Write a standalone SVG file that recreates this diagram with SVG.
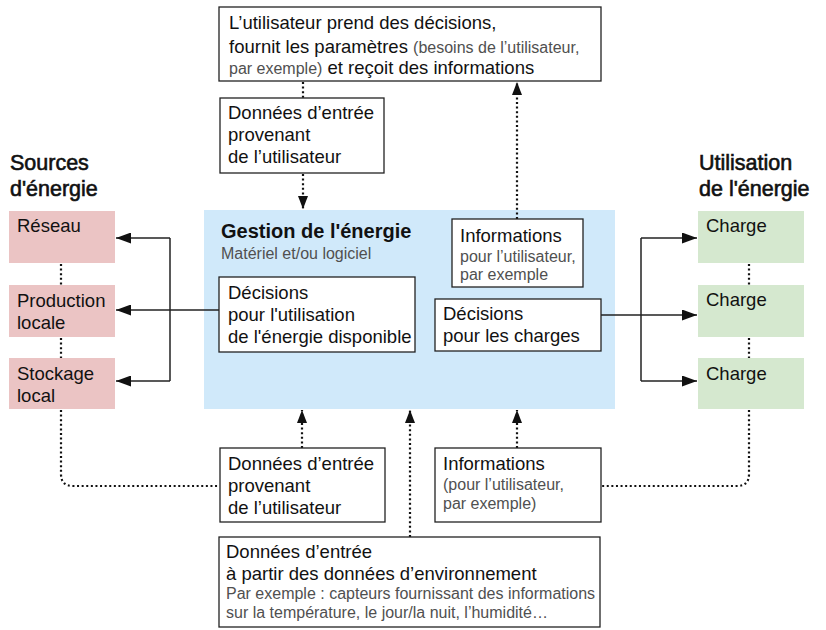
<svg xmlns="http://www.w3.org/2000/svg" width="826" height="630" viewBox="0 0 826 630">
<style>
text{font-family:"Liberation Sans",Arial,sans-serif;fill:#111}
.m{font-size:18.5px}
.s{font-size:16px;fill:#505050}
.h{font-size:21.5px;stroke:#111;stroke-width:0.6}
.b{font-size:20px;font-weight:bold}
.box{fill:#fff;stroke:#222;stroke-width:1.3}
.red{fill:#ebc4c4}
.grn{fill:#d5e8cf}
.blu{fill:#d0e9fa}
.sol{fill:none;stroke:#222;stroke-width:1.5}
.dot{fill:none;stroke:#111;stroke-width:2.2;stroke-dasharray:2 2.6}
</style>
<defs>
<marker id="as" viewBox="0 0 10 10" refX="10" refY="5" markerWidth="15" markerHeight="11" markerUnits="userSpaceOnUse" orient="auto" preserveAspectRatio="none"><path d="M0,0 L10,5 L0,10 z" fill="#111"/></marker>
<marker id="ad" viewBox="0 0 10 10" refX="10" refY="5" markerWidth="13" markerHeight="10" markerUnits="userSpaceOnUse" orient="auto" preserveAspectRatio="none"><path d="M0,0 L10,5 L0,10 z" fill="#111"/></marker>
</defs>

<g id="gestion">
<rect class="blu" x="204" y="210" width="411" height="199"/>
<text class="b" x="221" y="238">Gestion de l'énergie</text>
<text class="s" x="221" y="259">Matériel et/ou logiciel</text>
</g>

<g id="connectors">
<path class="sol" d="M219,310 H116" marker-end="url(#as)"/>
<path class="sol" d="M170,238 V381"/>
<path class="sol" d="M170,238 H116" marker-end="url(#as)"/>
<path class="sol" d="M170,381 H116" marker-end="url(#as)"/>
<path class="sol" d="M601,315 H697" marker-end="url(#as)"/>
<path class="sol" d="M641,238 V381"/>
<path class="sol" d="M641,238 H697" marker-end="url(#as)"/>
<path class="sol" d="M641,381 H697" marker-end="url(#as)"/>
<path class="dot" d="M303,82 V98"/>
<path class="dot" d="M303,174 V209" marker-end="url(#ad)"/>
<path class="dot" d="M517,219 V82" marker-end="url(#ad)"/>
<path class="dot" d="M302,448 V410" marker-end="url(#ad)"/>
<path class="dot" d="M410,537 V410" marker-end="url(#ad)"/>
<path class="dot" d="M517,448 V410" marker-end="url(#ad)"/>
<path class="dot" d="M61,264 V285"/>
<path class="dot" d="M61,338 V358"/>
<path class="dot" d="M61,410 V474 Q61,486 73,486 H219"/>
<path class="dot" d="M749,264 V285"/>
<path class="dot" d="M749,338 V358"/>
<path class="dot" d="M749,410 V474 Q749,486 737,486 H601"/>
</g>

<g id="user">
<rect class="box" x="219" y="7" width="382" height="74"/>
<text class="m" x="229" y="29">L’utilisateur prend des décisions,</text>
<text class="m" x="229" y="53">fournit les paramètres <tspan class="s">(besoins de l’utilisateur,</tspan></text>
<text class="m" x="229" y="74"><tspan class="s">par exemple)</tspan> et reçoit des informations</text>
</g>

<g id="input-user-top">
<rect class="box" x="220" y="98" width="164" height="75"/>
<text class="m" x="228" y="119">Données d’entrée</text>
<text class="m" x="228" y="141">provenant</text>
<text class="m" x="228" y="163">de l’utilisateur</text>
</g>

<g id="decisions-energy">
<rect class="box" x="219" y="277" width="196" height="75"/>
<text class="m" x="228" y="299">Décisions</text>
<text class="m" x="228" y="321">pour l'utilisation</text>
<text class="m" x="228" y="343">de l'énergie disponible</text>
</g>

<g id="info-user">
<rect class="box" x="452" y="219" width="131" height="68"/>
<text class="m" x="460" y="242">Informations</text>
<text class="s" x="460" y="262">pour l’utilisateur,</text>
<text class="s" x="460" y="280">par exemple</text>
</g>

<g id="decisions-charges">
<rect class="box" x="435" y="299" width="166" height="52"/>
<text class="m" x="443" y="320">Décisions</text>
<text class="m" x="443" y="342">pour les charges</text>
</g>

<g id="sources-title">
<text class="h" x="10" y="170">Sources</text>
<text class="h" x="10" y="196">d'énergie</text>
</g>
<g id="reseau">
<rect class="red" x="9" y="211" width="106" height="52"/>
<text class="m" x="17" y="232">Réseau</text>
</g>
<g id="production">
<rect class="red" x="9" y="285" width="106" height="52"/>
<text class="m" x="17" y="307">Production</text>
<text class="m" x="17" y="329">locale</text>
</g>
<g id="stockage">
<rect class="red" x="9" y="358" width="106" height="51"/>
<text class="m" x="17" y="380">Stockage</text>
<text class="m" x="17" y="402">local</text>
</g>

<g id="utilisation-title">
<text class="h" x="699" y="170">Utilisation</text>
<text class="h" x="699" y="196">de l'énergie</text>
</g>
<g id="charge1">
<rect class="grn" x="698" y="211" width="106" height="52"/>
<text class="m" x="706" y="232">Charge</text>
</g>
<g id="charge2">
<rect class="grn" x="698" y="285" width="106" height="52"/>
<text class="m" x="706" y="306">Charge</text>
</g>
<g id="charge3">
<rect class="grn" x="698" y="358" width="106" height="51"/>
<text class="m" x="706" y="380">Charge</text>
</g>

<g id="input-user-bottom">
<rect class="box" x="220" y="448" width="165" height="74"/>
<text class="m" x="228" y="470">Données d’entrée</text>
<text class="m" x="228" y="492">provenant</text>
<text class="m" x="228" y="514">de l’utilisateur</text>
</g>

<g id="info-bottom">
<rect class="box" x="435" y="448" width="166" height="74"/>
<text class="m" x="443" y="470">Informations</text>
<text class="s" x="443" y="490">(pour l’utilisateur,</text>
<text class="s" x="443" y="509">par exemple)</text>
</g>

<g id="input-env">
<rect class="box" x="219" y="537" width="381" height="90"/>
<text class="m" x="226" y="558">Données d’entrée</text>
<text class="m" x="226" y="580">à partir des données d’environnement</text>
<text class="s" x="226" y="599">Par exemple : capteurs fournissant des informations</text>
<text class="s" x="226" y="618">sur la température, le jour/la nuit, l’humidité…</text>
</g>
</svg>
